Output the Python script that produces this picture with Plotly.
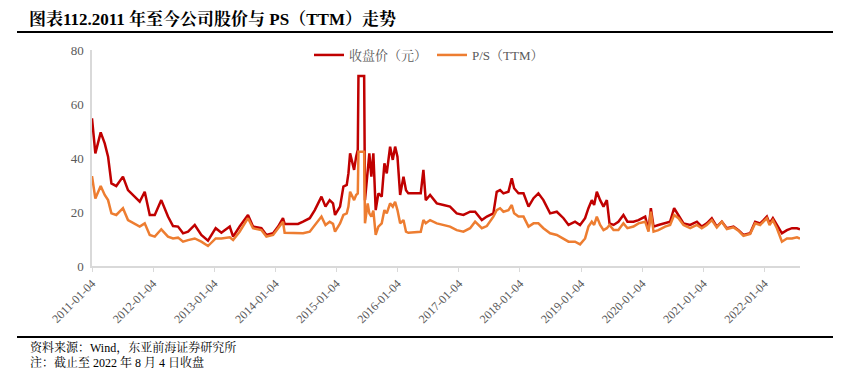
import plotly.graph_objects as go

dates = [
    "2011-01-04", "2011-01-24", "2011-02-25", "2011-03-21", "2011-04-10", "2011-04-30", "2011-05-29",
    "2011-07-08", "2011-08-07", "2011-09-16", "2011-10-16", "2011-11-15", "2011-12-15", "2012-01-14",
    "2012-02-22", "2012-04-02", "2012-05-02", "2012-06-01", "2012-07-01", "2012-07-31", "2012-09-09",
    "2012-10-18", "2012-11-27", "2013-01-12", "2013-02-15", "2013-04-06", "2013-04-26", "2013-06-04",
    "2013-07-24", "2013-08-23", "2013-10-12", "2013-11-11", "2013-12-21", "2014-01-20", "2014-02-18",
    "2014-02-28", "2014-05-19", "2014-06-18", "2014-07-28", "2014-08-27", "2014-10-06", "2014-10-30",
    "2014-11-24", "2014-12-14", "2014-12-26", "2015-01-25", "2015-02-14", "2015-03-06", "2015-03-16",
    "2015-03-26", "2015-04-05", "2015-04-19", "2015-05-01", "2015-05-11", "2015-05-15", "2015-06-18",
    "2015-06-23", "2015-07-09", "2015-07-19", "2015-07-31", "2015-08-12", "2015-08-26", "2015-09-11",
    "2015-10-01", "2015-10-17", "2015-10-31", "2015-11-20", "2015-12-06", "2015-12-20", "2016-01-03",
    "2016-01-19", "2016-02-08", "2016-02-23", "2016-03-08", "2016-05-21", "2016-06-06", "2016-06-20",
    "2016-07-16", "2016-08-25", "2016-10-04", "2016-11-12", "2016-12-22", "2017-01-31", "2017-03-12",
    "2017-04-11", "2017-05-21", "2017-06-20", "2017-07-29", "2017-08-18", "2017-09-07", "2017-09-27",
    "2017-10-27", "2017-11-16", "2017-11-30", "2017-12-26", "2018-01-25", "2018-02-24", "2018-03-26",
    "2018-04-24", "2018-05-24", "2018-07-03", "2018-08-12", "2018-09-21", "2018-10-21", "2018-11-29",
    "2018-12-29", "2019-01-28", "2019-02-17", "2019-03-09", "2019-03-23", "2019-04-08", "2019-04-28",
    "2019-05-18", "2019-06-07", "2019-06-23", "2019-07-17", "2019-08-15", "2019-09-14", "2019-10-08",
    "2019-11-13", "2019-12-13", "2020-01-22", "2020-02-11", "2020-02-25", "2020-03-12", "2020-04-10",
    "2020-05-20", "2020-06-19", "2020-07-13", "2020-08-08", "2020-09-07", "2020-10-17", "2020-11-26",
    "2020-12-25", "2021-01-24", "2021-02-23", "2021-03-25", "2021-04-24", "2021-05-24", "2021-07-03",
    "2021-08-01", "2021-08-31", "2021-10-10", "2021-11-09", "2021-12-09", "2021-12-29", "2022-01-18",
    "2022-02-03", "2022-02-23", "2022-03-19", "2022-04-18", "2022-05-18", "2022-06-17", "2022-07-17",
    "2022-08-04",
]

close_price = [
    54.7, 41.7, 49.5, 45.4, 40.5, 30.6, 29.6,
    33.1, 28.1, 25.7, 23.8, 27.5, 18.9, 18.9,
    24.4, 18.3, 14.8, 14.6, 12.1, 12.7, 15.2,
    11.5, 9.4, 14.0, 12.3, 14.6, 10.9, 14.6,
    18.9, 14.6, 14.0, 11.5, 12.1, 14.6, 17.7,
    15.6, 15.6, 16.4, 17.7, 20.7, 25.7, 22.0,
    24.4, 23.2, 18.9, 22.0, 29.4, 30.0, 34.3,
    41.7, 39.3, 35.6, 40.5, 43.0, 70.4, 70.4,
    24.4, 35.6, 41.7, 33.1, 41.7, 20.7, 26.9,
    25.7, 38.0, 34.3, 44.2, 39.3, 44.2, 40.5,
    26.3, 33.1, 28.1, 26.9, 26.9, 35.6, 24.4,
    26.3, 23.2, 22.6, 22.0, 19.5, 18.9, 20.1,
    20.1, 17.0, 18.3, 19.5, 27.5, 28.1, 26.9,
    27.5, 32.5, 28.8, 26.9, 26.9, 22.0, 25.1,
    26.9, 24.4, 19.5, 20.1, 17.7, 15.2, 16.4,
    15.2, 17.7, 21.4, 24.4, 22.6, 27.5, 24.4,
    22.0, 24.4, 15.8, 15.2, 16.4, 18.9, 16.4,
    16.4, 17.0, 18.3, 13.3, 21.4, 14.6, 15.2,
    15.8, 16.4, 21.4, 18.9, 15.8, 15.2, 16.4,
    14.6, 15.8, 17.7, 14.6, 16.4, 14.0, 14.6,
    13.3, 11.5, 12.1, 16.4, 15.8, 17.0, 18.3,
    15.8, 17.7, 15.2, 12.1, 13.3, 14.0, 14.0,
    13.6,
]

ps_ttm = [
    33.3, 25.0, 29.6, 26.3, 24.4, 19.5, 18.9,
    21.4, 17.0, 15.6, 14.6, 15.8, 11.5, 10.9,
    13.6, 10.9, 10.2, 10.5, 9.0, 9.6, 10.2,
    9.0, 7.4, 10.2, 10.2, 10.6, 9.6, 12.7,
    17.7, 14.0, 13.3, 10.9, 11.5, 14.0, 16.4,
    12.3, 12.3, 12.1, 12.7, 15.2, 18.3, 15.2,
    16.4, 15.6, 12.7, 15.8, 18.9, 19.5, 22.0,
    27.5, 26.3, 24.4, 26.3, 26.9, 42.3, 42.3,
    15.8, 23.2, 19.5, 18.3, 20.5, 11.5, 14.6,
    15.8, 20.7, 19.5, 23.2, 22.0, 23.8, 20.7,
    15.8, 17.0, 12.7, 12.3, 12.7, 17.0, 15.8,
    17.0, 15.8, 15.2, 14.6, 13.3, 12.7, 14.0,
    16.4, 14.0, 14.8, 18.3, 20.7, 21.4, 20.1,
    20.7, 22.6, 19.5, 18.3, 18.3, 14.6, 15.8,
    15.8, 14.0, 12.1, 11.5, 10.2, 9.0, 9.0,
    8.0, 10.2, 14.6, 16.4, 15.2, 18.3, 15.2,
    13.3, 14.0, 15.2, 13.3, 13.3, 15.8, 14.0,
    14.6, 15.8, 16.4, 12.7, 20.1, 12.7, 13.3,
    14.6, 15.2, 18.9, 17.7, 15.2, 14.0, 15.2,
    14.0, 15.2, 17.0, 14.3, 16.4, 13.7, 14.3,
    13.1, 11.2, 11.9, 15.8, 15.2, 16.4, 17.7,
    15.2, 17.0, 14.0, 9.0, 10.2, 10.2, 10.6,
    10.2,
]

y_ticks = [0, 20, 40, 60, 80]
x_tick_vals = ["2011-01-04", "2012-01-04", "2013-01-04", "2014-01-04", "2015-01-04", "2016-01-04",
               "2017-01-04", "2018-01-04", "2019-01-04", "2020-01-04", "2021-01-04", "2022-01-04"]

series_names = ["收盘价（元）", "P/S（TTM）"]
title_text = "图表112.2011 年至今公司股价与 PS（TTM）走势"
source_text = "资料来源：Wind，东亚前海证券研究所"
note_text = "注：截止至 2022 年 8 月 4 日收盘"

FONT = "Liberation Serif, Times New Roman, Noto Serif CJK SC, Noto Sans CJK SC, serif"

fig = go.Figure()
fig.add_trace(go.Scatter(x=dates, y=close_price, mode="lines", name=series_names[0],
                         line=dict(color="#C00000", width=2.5)))
fig.add_trace(go.Scatter(x=dates, y=ps_ttm, mode="lines", name=series_names[1],
                         line=dict(color="#ED7D31", width=2.5)))

# the page adds an 8px body margin; figure coordinates below are page coordinates minus 8
OFF = 8
W, H = 841 - OFF, 373 - OFF
L, R, T, B = 92 - OFF, 41, 50 - OFF, 107
pw, ph = W - L - R, H - T - B


def px(x):
    return (x - OFF - L) / pw


def py(y):
    return (H - B - (y - OFF)) / ph


fig.update_layout(
    width=W, height=H,
    margin=dict(l=L, r=R, t=T, b=B, pad=0),
    paper_bgcolor="white", plot_bgcolor="white",
    font=dict(family=FONT, color="#595959", size=12),
    showlegend=True,
    legend=dict(orientation="h", x=px(429), y=py(55), xanchor="center", yanchor="middle",
                font=dict(size=13, color="#595959"), itemwidth=30, bgcolor="rgba(0,0,0,0)",
                tracegroupgap=0),
    xaxis=dict(type="date", range=["2011-01-04", "2022-08-04"],
               tickvals=x_tick_vals, ticktext=x_tick_vals, tickangle=-45,
               showgrid=False, showline=True, linecolor="#D9D9D9", linewidth=1.5,
               ticks="outside", ticklen=4, tickcolor="#D9D9D9",
               tickfont=dict(size=12, color="#595959"), zeroline=False),
    yaxis=dict(range=[0, 80], tickvals=y_ticks, showgrid=False, showline=True,
               linecolor="#D9D9D9", linewidth=1.5, ticks="", zeroline=False,
               tickfont=dict(size=13, color="#595959"), ticklabelstandoff=4),
)

fig.add_annotation(text="<b>" + title_text + "</b>", xref="paper", yref="paper",
                   x=px(27), y=py(19), xanchor="left", yanchor="middle", showarrow=False,
                   font=dict(size=17, color="#000000", family=FONT))
fig.add_annotation(text=source_text, xref="paper", yref="paper",
                   x=px(28), y=py(347), xanchor="left", yanchor="middle", showarrow=False,
                   font=dict(size=12, color="#000000", family=FONT))
fig.add_annotation(text=note_text, xref="paper", yref="paper",
                   x=px(28), y=py(362), xanchor="left", yanchor="middle", showarrow=False,
                   font=dict(size=12, color="#000000", family=FONT))

fig.add_shape(type="line", xref="paper", yref="paper", x0=px(17), x1=px(838), y0=py(32), y1=py(32),
              line=dict(color="#000000", width=2))
fig.add_shape(type="line", xref="paper", yref="paper", x0=px(17), x1=px(838), y0=py(337), y1=py(337),
              line=dict(color="#000000", width=2))

fig.write_html("out.html")
